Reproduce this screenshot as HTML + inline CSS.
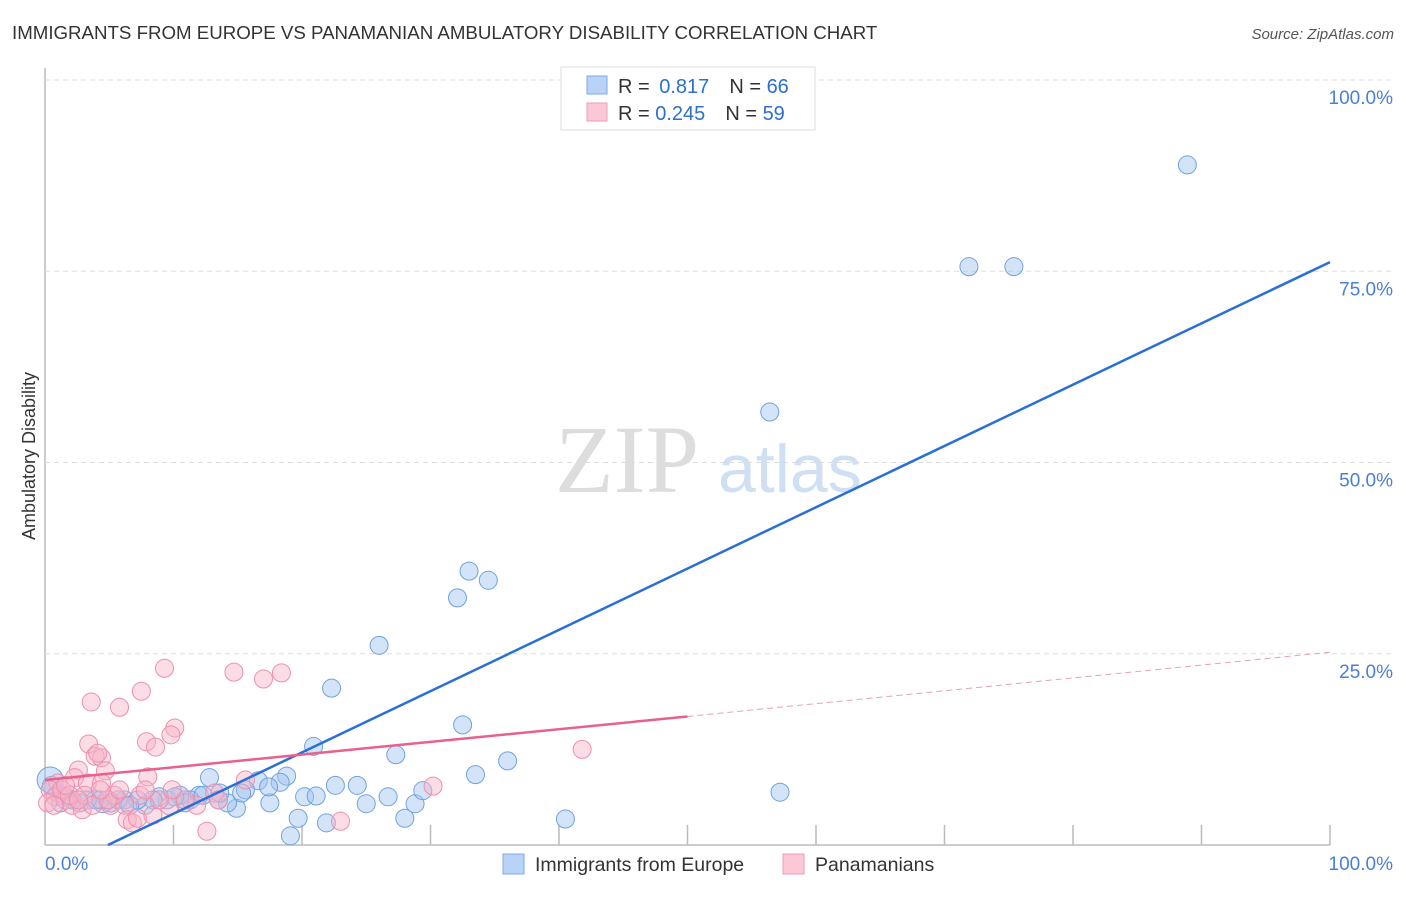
<!DOCTYPE html>
<html><head><meta charset="utf-8"><style>
body{margin:0;background:#fff;font-family:"Liberation Sans",sans-serif}
</style></head><body>
<svg width="1406" height="892" xmlns="http://www.w3.org/2000/svg" id="chart">
<text x="12" y="39" font-size="18.7" fill="#333">IMMIGRANTS FROM EUROPE VS PANAMANIAN AMBULATORY DISABILITY CORRELATION CHART</text>
<text x="1394" y="39" font-size="15" fill="#555" font-style="italic" text-anchor="end">Source: ZipAtlas.com</text>
<text x="35" y="456" font-size="18" fill="#333" text-anchor="middle" transform="rotate(-90 35 456)">Ambulatory Disability</text>
<text x="555" y="492" font-size="96" fill="#ddd" font-family="Liberation Serif">ZIP</text>
<text x="718" y="492" font-size="68" fill="#cfe0f5">atlas</text>
<g id="grid"></g><g id="pts"></g><g id="lines"></g>
<g>
<rect x="561" y="67" width="254" height="63" fill="#fff" stroke="#ddd"/>
<rect x="587" y="76" width="20" height="18" fill="#b8d3f5" stroke="#7eaae6"/>
<rect x="587" y="103" width="20" height="18" fill="#fcc8d6" stroke="#ef9bb5"/>
<text x="618" y="93" font-size="20" fill="#333">R = <tspan fill="#2c6fd1" dx="4">0.817</tspan><tspan dx="20">N = </tspan><tspan fill="#2c6fd1">66</tspan></text>
<text x="618" y="120" font-size="20" fill="#333">R = <tspan fill="#2c6fd1">0.245</tspan><tspan dx="20">N = </tspan><tspan fill="#2c6fd1">59</tspan></text>
</g>
<g>
<rect x="503" y="854" width="21" height="20" fill="#b8d3f5" stroke="#7eaae6"/>
<text x="535" y="871" font-size="19.5" fill="#333">Immigrants from Europe</text>
<rect x="783" y="854" width="21" height="20" fill="#fcc8d6" stroke="#ef9bb5"/>
<text x="815" y="871" font-size="19.5" fill="#333">Panamanians</text>
</g>
</svg>
<script>
const xTicks=[0,10,20,30,40,50,60,70,80,90,100];
const yTicks=[25,50,75,100];
const yTickLabels=["25.0%","50.0%","75.0%","100.0%"];
const blueX=[88.9,71.9,75.4,56.4,33.0,34.5,32.1,26.0,22.3,32.5,20.9,27.3,36.0,33.5,12.8,18.8,16.6,18.3,22.6,24.3,57.2,40.5,19.1,21.9,19.7,25.0,26.7,28.0,28.8,29.4,20.2,21.1,17.5,15.6,17.4,14.9,14.2,13.5,13.6,12.0,11.3,10.5,10.9,9.5,8.9,8.4,7.8,7.2,6.2,5.7,5.1,4.5,3.9,3.3,2.7,2.1,1.6,1.0,0.5,0.4,1.2,4.3,6.6,10.1,12.3,15.3];
const blueY=[88.9,75.6,75.6,56.6,35.8,34.6,32.3,26.1,20.5,15.7,12.9,11.8,11.0,9.2,8.8,9.0,8.4,8.2,7.8,7.8,6.9,3.4,1.2,2.9,3.5,5.4,6.3,3.5,5.4,7.1,6.3,6.4,5.5,7.2,7.6,4.8,5.5,5.9,6.8,6.5,5.9,6.5,5.5,5.9,6.3,5.9,5.2,5.9,5.9,5.9,5.5,5.4,5.9,5.9,5.5,5.9,6.3,6.8,7.8,8.5,5.5,5.9,5.2,6.3,6.5,6.8];
const pinkX=[9.3,14.7,18.4,17.0,7.5,3.6,5.8,10.1,9.8,7.9,8.6,3.4,3.9,4.4,4.1,41.8,2.6,8.0,4.7,2.3,3.3,4.4,30.2,1.0,0.4,0.8,1.6,2.1,2.9,5.1,6.2,7.4,9.7,11.8,13.2,15.6,13.5,6.4,6.8,7.2,23.0,12.6,8.4,5.4,1.3,0.2,1.9,3.1,3.7,4.9,8.9,7.8,10.9,5.8,2.6,1.6,0.7,4.3,9.9];
const pinkY=[23.1,22.6,22.5,21.7,20.1,18.7,18.0,15.3,14.4,13.5,12.8,13.2,11.6,11.4,12.0,12.5,9.8,8.9,9.7,8.8,8.1,8.1,7.7,8.1,7.2,6.3,5.9,5.2,4.6,5.2,5.2,6.5,5.1,5.2,6.8,8.5,5.9,3.3,2.9,3.5,3.1,1.8,3.9,6.5,7.2,5.5,6.5,6.5,5.2,5.9,5.9,7.2,5.9,7.2,5.9,7.8,5.2,7.2,7.2];
const blueTrend=[[4.9,0],[100,76.2]];
const pinkTrend=[[0,8.5],[50,16.8],[100,25.2]];
const X0=45,X1=1330,Y0=845,Y100=80;
const sx=v=>X0+v/100*(X1-X0), sy=v=>Y0-v/100*(Y0-Y100);
const NS="http://www.w3.org/2000/svg";
function mk(t,a,p){const e=document.createElementNS(NS,t);for(const k in a)e.setAttribute(k,a[k]);p.appendChild(e);return e;}
const grid=document.getElementById('grid');
let ax=mk('line',{x1:X0,y1:68,x2:X0,y2:Y0,stroke:'#bbb','stroke-width':1.5},grid);


let bx=mk('line',{x1:X0,y1:Y0,x2:X1,y2:Y0,stroke:'#bbb','stroke-width':1.5},grid);


yTicks.forEach((v,i)=>{
 const g=mk('line',{x1:X0,y1:sy(v),x2:1394,y2:sy(v),stroke:'#ddd','stroke-dasharray':'5,4'},grid);
 
 
 const t=mk('text',{x:1393,y:sy(v)+24,'font-size':19,fill:'#4a7fd4','text-anchor':'end'},grid);
 t.textContent=yTickLabels[i];
 
 
});
xTicks.forEach(v=>{if(v===0)return;
 const l=mk('line',{x1:sx(v),y1:Y0-20,x2:sx(v),y2:Y0,stroke:'#bbb','stroke-width':1.5},grid);
 
 
});
let t0=mk('text',{x:45,y:870,'font-size':19,fill:'#4a7fd4'},grid);t0.textContent='0.0%';


let t1=mk('text',{x:1393,y:870,'font-size':19,fill:'#4a7fd4','text-anchor':'end'},grid);t1.textContent='100.0%';


const pts=document.getElementById('pts');
blueX.forEach((x,i)=>{const c=mk('circle',{cx:sx(x),cy:sy(blueY[i]),r:i===59?13:9,fill:'rgba(160,196,240,0.45)',stroke:'#6fa2e0','stroke-width':1},pts);
 
 });
pinkX.forEach((x,i)=>{const c=mk('circle',{cx:sx(x),cy:sy(pinkY[i]),r:9,fill:'rgba(248,180,200,0.45)',stroke:'#ec8fae','stroke-width':1},pts);
 
 });
const ln=document.getElementById('lines');
let b=mk('line',{x1:sx(blueTrend[0][0]),y1:sy(blueTrend[0][1]),x2:sx(blueTrend[1][0]),y2:sy(blueTrend[1][1]),stroke:'#2a6fd6','stroke-width':2.5},ln);


let p1=mk('line',{x1:sx(pinkTrend[0][0]),y1:sy(pinkTrend[0][1]),x2:sx(pinkTrend[1][0]),y2:sy(pinkTrend[1][1]),stroke:'#e8608c','stroke-width':2.5},ln);


let p2=mk('line',{x1:sx(pinkTrend[1][0]),y1:sy(pinkTrend[1][1]),x2:sx(pinkTrend[2][0]),y2:sy(pinkTrend[2][1]),stroke:'#e8a0b8','stroke-width':1,'stroke-dasharray':'6,4'},ln);


</script>
</body></html>
